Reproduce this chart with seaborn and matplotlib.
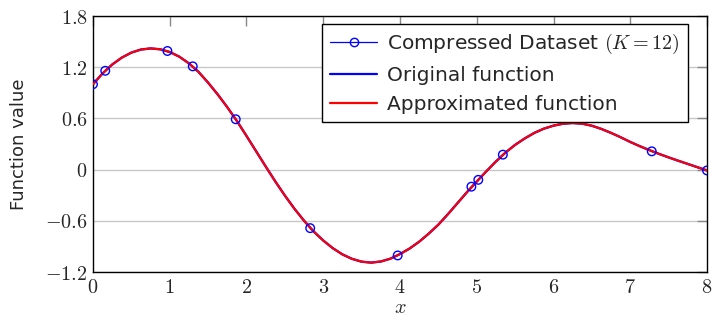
import numpy as np
import pandas as pd
import matplotlib
matplotlib.use("Agg")
import matplotlib.pyplot as plt
import seaborn as sns
from matplotlib.lines import Line2D

# ---- data ----
x_curve = [0.0, 0.125, 0.25, 0.375, 0.5, 0.625, 0.75, 0.875, 1.0, 1.125, 1.25, 1.375,
           1.5, 1.625, 1.75, 1.875, 2.0, 2.125, 2.25, 2.375, 2.5, 2.625, 2.75, 2.875,
           3.0, 3.125, 3.25, 3.375, 3.5, 3.625, 3.75, 3.875, 4.0, 4.125, 4.25, 4.375,
           4.5, 4.625, 4.75, 4.875, 5.0, 5.125, 5.25, 5.375, 5.5, 5.625, 5.75, 5.875,
           6.0, 6.125, 6.25, 6.375, 6.5, 6.625, 6.75, 6.875, 7.0, 7.125, 7.25, 7.375,
           7.5, 7.625, 7.75, 7.875, 8.0]
y_original = [1.000, 1.127, 1.231, 1.312, 1.371, 1.407, 1.420, 1.410, 1.378, 1.323, 1.245, 1.145,
              1.019, 0.881, 0.731, 0.570, 0.395, 0.216, 0.037, -0.138, -0.304, -0.459, -0.599, -0.725,
              -0.831, -0.921, -0.994, -1.046, -1.079, -1.090, -1.077, -1.044, -0.990, -0.925, -0.845, -0.750,
              -0.645, -0.522, -0.392, -0.262, -0.140, -0.020, 0.095, 0.200, 0.290, 0.365, 0.430, 0.480,
              0.515, 0.538, 0.546, 0.538, 0.514, 0.476, 0.430, 0.379, 0.324, 0.274, 0.228, 0.184,
              0.143, 0.104, 0.066, 0.028, -0.010]
y_approx = list(y_original)

x_compressed = [0.0, 0.16, 0.97, 1.30, 1.86, 2.83, 3.97, 4.93, 5.02, 5.34, 7.28, 8.0]
y_compressed = [1.00, 1.158, 1.39, 1.21, 0.59, -0.686, -1.006, -0.20, -0.12, 0.175, 0.214, -0.01]

x_ticks = [0, 1, 2, 3, 4, 5, 6, 7, 8]
y_ticks = [-1.2, -0.6, 0, 0.6, 1.2, 1.8]
y_tick_labels = ["$-1.2$", "$-0.6$", "$0$", "$0.6$", "$1.2$", "$1.8$"]

sns.set_style("white")
plt.rcParams["font.family"] = ["DejaVu Sans"]
plt.rcParams["mathtext.fontset"] = "cm"

fig = plt.figure(figsize=(7.13, 3.2), dpi=100)
ax = fig.add_axes([0.1304, 0.15, 0.8612, 0.80])

df_curve = pd.DataFrame({"x": x_curve, "orig": y_original, "approx": y_approx})
df_pts = pd.DataFrame({"x": x_compressed, "y": y_compressed})

ax.grid(axis="y", color="#c8c8c8", linewidth=1.0, zorder=0)
ax.set_axisbelow(True)

sns.lineplot(data=df_curve, x="x", y="orig", ax=ax, color="#0000ff", linewidth=1.7,
             zorder=2, legend=False)
sns.lineplot(data=df_curve, x="x", y="approx", ax=ax, color="#ff0000", linewidth=1.5,
             zorder=3, legend=False)
sns.scatterplot(data=df_pts, x="x", y="y", ax=ax, marker="o", s=38,
                facecolor="none", edgecolor="#0000ff", linewidth=1.0, zorder=4,
                legend=False)

ax.set_xlim(0, 8)
ax.set_ylim(-1.2, 1.8)
ax.set_xticks(x_ticks)
ax.set_xticklabels([f"${t}$" for t in x_ticks])
ax.set_yticks(y_ticks)
ax.set_yticklabels(y_tick_labels)
ax.tick_params(axis="both", direction="in", length=7, width=1.0, color="#888888",
               labelsize=14.5, top=True, right=True, pad=4)
for s in ax.spines.values():
    s.set_color("black")
    s.set_linewidth(1.0)

ax.set_xlabel("$x$", fontsize=14.5, labelpad=1)
ax.set_ylabel("Function value", fontsize=13, labelpad=12)

handles = [
    Line2D([0], [0], color="#0000ff", linewidth=0.9, marker="o", markersize=6,
           markerfacecolor="none", markeredgecolor="#0000ff"),
    Line2D([0], [0], color="#0000ff", linewidth=1.6),
    Line2D([0], [0], color="#ff0000", linewidth=1.6),
]
labels = ["Compressed Dataset $(K = 12)$", "Original function", "Approximated function"]
leg = ax.legend(handles, labels, loc="upper right", bbox_to_anchor=(0.969, 0.97),
                fontsize=14.5, frameon=True, fancybox=False, framealpha=1,
                edgecolor="black", handlelength=2.3, borderpad=0.42,
                labelspacing=0.48, handletextpad=0.5, borderaxespad=0.0)
leg.get_frame().set_linewidth(1.0)

fig.savefig("out.png", dpi=100)
